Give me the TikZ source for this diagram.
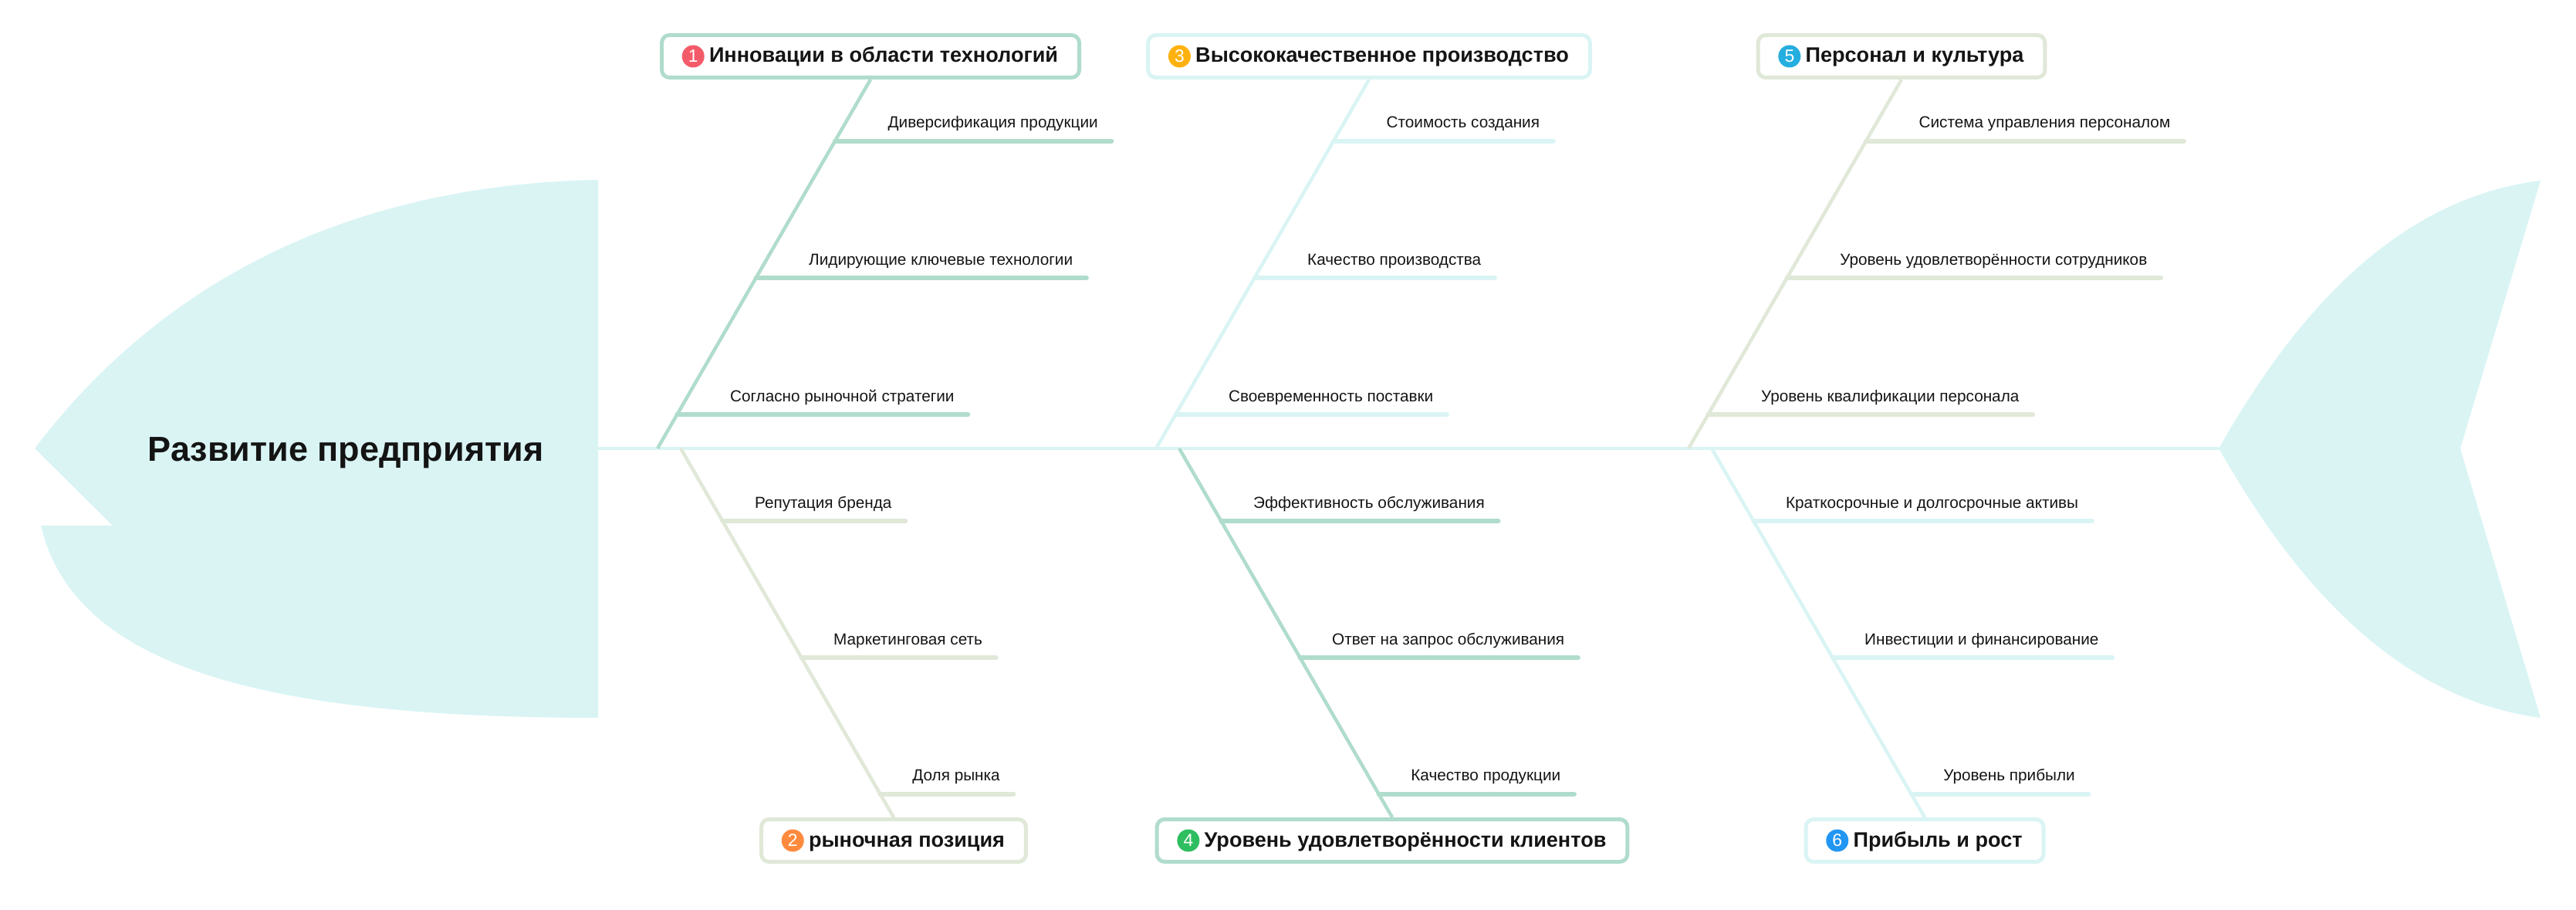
\documentclass[tikz,border=0pt]{standalone}
\usepackage{fontspec}
\setmainfont{Liberation Sans}
\usetikzlibrary{positioning,calc}

\definecolor{mint}{HTML}{B0DCCC}
\definecolor{aqua}{HTML}{DAF4F4}
\definecolor{sage}{HTML}{E0E8D8}
\definecolor{ink}{HTML}{141414}
\definecolor{numred}{HTML}{F45B69}
\definecolor{numorange}{HTML}{FF8A3D}
\definecolor{numamber}{HTML}{FFB20F}
\definecolor{numgreen}{HTML}{2EBE60}
\definecolor{numsky}{HTML}{25AEE0}
\definecolor{numblue}{HTML}{2196F3}

\begin{document}
\begin{tikzpicture}[every node/.style={text=ink},
  cause/.style={draw, line width=0.05cm, rounded corners=0.1cm, fill=white, minimum height=0.55cm,
    inner xsep=0.275cm, text height=0.2cm, text depth=0.04cm, font=\fontsize{7.7}{9}\selectfont\bfseries,
    execute at begin node={\hspace*{3.4mm}}},
  badge/.style={circle, inner sep=0pt, minimum size=0.29cm, text=white, font=\fontsize{6.5}{7}\selectfont},
  bone/.style={line width=0.045cm},
  twig/.style={line width=0.06cm, line cap=round},
  item/.style={inner sep=0pt, font=\fontsize{5.9}{7}\selectfont}]
\useasboundingbox (0,0) rectangle (33.38,-11.79);

% head and tail of the fish
\fill[aqua] (0.45,-5.81) .. controls (1.90,-3.90) and (4.20,-2.40) .. (7.75,-2.33)
  -- (7.75,-9.30) .. controls (3.30,-9.30) and (0.95,-8.60) .. (0.53,-6.81) -- (1.46,-6.81) -- cycle;
\fill[aqua] (28.75,-5.81) .. controls (29.50,-4.50) and (30.80,-2.60) .. (32.92,-2.34)
  -- (31.88,-5.81) -- (32.92,-9.30) .. controls (30.80,-9.02) and (29.50,-7.12) .. (28.75,-5.81) -- cycle;
\node[anchor=base, font=\fontsize{12.8}{15}\selectfont\bfseries] (title) at (4.48,-5.98) {Развитие предприятия};

% spine
\coordinate (head) at (7.75,-5.81);
\coordinate (tail) at (28.75,-5.81);
\draw[aqua, line width=0.045cm] (head) -- (tail);

% bone ends
\coordinate (s1) at (8.52,-5.81);  \coordinate (t1) at (11.28,-1.03);
\coordinate (s3) at (14.98,-5.81); \coordinate (t3) at (17.74,-1.03);
\coordinate (s5) at (21.88,-5.81); \coordinate (t5) at (24.64,-1.03);
\coordinate (s2) at (8.82,-5.81);  \coordinate (t2) at (11.58,-10.59);
\coordinate (s4) at (15.28,-5.81); \coordinate (t4) at (18.04,-10.59);
\coordinate (s6) at (22.18,-5.81); \coordinate (t6) at (24.94,-10.59);

% 1
\node[cause, draw=mint, anchor=south] (b1) at (t1) {Инновации в области технологий};
\node[badge, fill=numred, right=0.28cm of b1.west] (n1) {1};
\draw[bone, mint] (s1) -- (b1.south);
\foreach \f/\txt [count=\k] in {0.833/Диверсификация продукции, 0.462/Лидирующие ключевые технологии, 0.092/Согласно рыночной стратегии} {
  \coordinate (c1\k) at ($(s1)!\f!(b1.south)$);
  \node[item, anchor=base west] (l1\k) at ($(c1\k)+(0.68,0.17)$) {\txt};
  \draw[twig, mint] (c1\k) -- ([xshift=0.17cm]c1\k -| l1\k.east);
}

% 3
\node[cause, draw=aqua, anchor=south] (b3) at (t3) {Высококачественное производство};
\node[badge, fill=numamber, right=0.28cm of b3.west] (n3) {3};
\draw[bone, aqua] (s3) -- (b3.south);
\foreach \f/\txt [count=\k] in {0.833/Стоимость создания, 0.462/Качество производства, 0.092/Своевременность поставки} {
  \coordinate (c3\k) at ($(s3)!\f!(b3.south)$);
  \node[item, anchor=base west] (l3\k) at ($(c3\k)+(0.68,0.17)$) {\txt};
  \draw[twig, aqua] (c3\k) -- ([xshift=0.17cm]c3\k -| l3\k.east);
}

% 5
\node[cause, draw=sage, anchor=south] (b5) at (t5) {Персонал и культура};
\node[badge, fill=numsky, right=0.28cm of b5.west] (n5) {5};
\draw[bone, sage] (s5) -- (b5.south);
\foreach \f/\txt [count=\k] in {0.833/Система управления персоналом, 0.462/Уровень удовлетворённости сотрудников, 0.092/Уровень квалификации персонала} {
  \coordinate (c5\k) at ($(s5)!\f!(b5.south)$);
  \node[item, anchor=base west] (l5\k) at ($(c5\k)+(0.68,0.17)$) {\txt};
  \draw[twig, sage] (c5\k) -- ([xshift=0.17cm]c5\k -| l5\k.east);
}

% 2
\node[cause, draw=sage, anchor=north] (b2) at (t2) {рыночная позиция};
\node[badge, fill=numorange, right=0.28cm of b2.west] (n2) {2};
\draw[bone, sage] (s2) -- (b2.north);
\foreach \f/\txt [count=\k] in {0.197/Репутация бренда, 0.567/Маркетинговая сеть, 0.937/Доля рынка} {
  \coordinate (c2\k) at ($(s2)!\f!(b2.north)$);
  \node[item, anchor=base west] (l2\k) at ($(c2\k)+(0.41,0.17)$) {\txt};
  \draw[twig, sage] (c2\k) -- ([xshift=0.17cm]c2\k -| l2\k.east);
}

% 4
\node[cause, draw=mint, anchor=north] (b4) at (t4) {Уровень удовлетворённости клиентов};
\node[badge, fill=numgreen, right=0.28cm of b4.west] (n4) {4};
\draw[bone, mint] (s4) -- (b4.north);
\foreach \f/\txt [count=\k] in {0.197/Эффективность обслуживания, 0.567/Ответ на запрос обслуживания, 0.937/Качество продукции} {
  \coordinate (c4\k) at ($(s4)!\f!(b4.north)$);
  \node[item, anchor=base west] (l4\k) at ($(c4\k)+(0.41,0.17)$) {\txt};
  \draw[twig, mint] (c4\k) -- ([xshift=0.17cm]c4\k -| l4\k.east);
}

% 6
\node[cause, draw=aqua, anchor=north] (b6) at (t6) {Прибыль и рост};
\node[badge, fill=numblue, right=0.28cm of b6.west] (n6) {6};
\draw[bone, aqua] (s6) -- (b6.north);
\foreach \f/\txt [count=\k] in {0.197/Краткосрочные и долгосрочные активы, 0.567/Инвестиции и финансирование, 0.937/Уровень прибыли} {
  \coordinate (c6\k) at ($(s6)!\f!(b6.north)$);
  \node[item, anchor=base west] (l6\k) at ($(c6\k)+(0.41,0.17)$) {\txt};
  \draw[twig, aqua] (c6\k) -- ([xshift=0.17cm]c6\k -| l6\k.east);
}
\end{tikzpicture}
\end{document}
